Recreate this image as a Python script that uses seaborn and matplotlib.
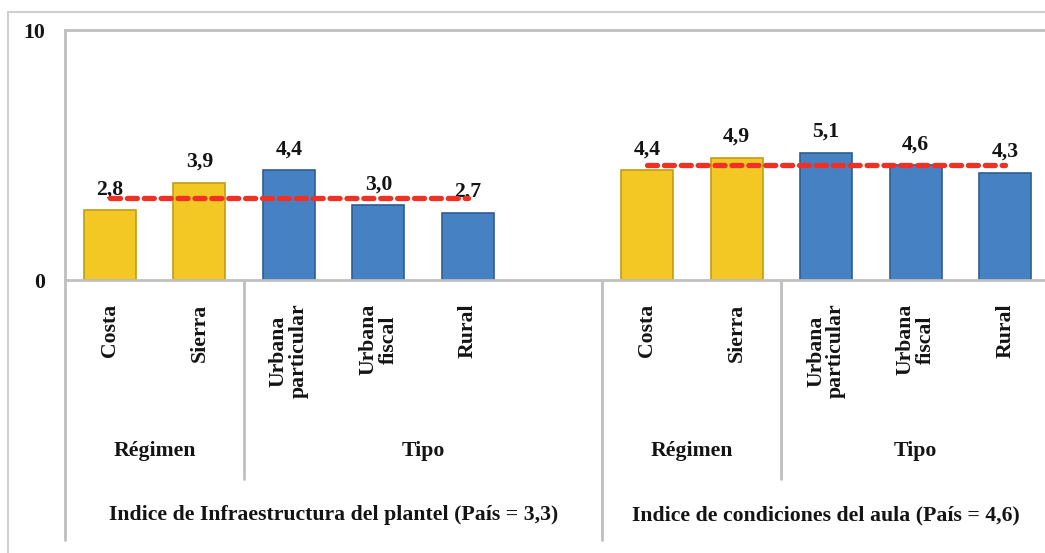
import numpy as np
import pandas as pd
import seaborn as sns
import matplotlib.pyplot as plt
from matplotlib.transforms import blended_transform_factory
from matplotlib.lines import Line2D

# data
slots = ['c1', 's1', 'up1', 'uf1', 'r1', 'gap', 'c2', 's2', 'up2', 'uf2', 'r2']
tick_labels = ['Costa', 'Sierra', 'Urbana\nparticular', 'Urbana\nfiscal', 'Rural', '',
               'Costa', 'Sierra', 'Urbana\nparticular', 'Urbana\nfiscal', 'Rural']
bar_slots = ['c1', 's1', 'up1', 'uf1', 'r1', 'c2', 's2', 'up2', 'uf2', 'r2']
values = [2.8, 3.9, 4.4, 3.0, 2.7, 4.4, 4.9, 5.1, 4.6, 4.3]
grupo = ['Régimen', 'Régimen', 'Tipo', 'Tipo', 'Tipo',
         'Régimen', 'Régimen', 'Tipo', 'Tipo', 'Tipo']
value_text = ['2,8', '3,9', '4,4', '3,0', '2,7', '4,4', '4,9', '5,1', '4,6', '4,3']
pais = [3.3, 4.6]
indices = ['Indice de Infraestructura del plantel (País = 3,3)',
           'Indice de condiciones del aula (País = 4,6)']

df = pd.DataFrame({'slot': bar_slots, 'valor': values, 'grupo': grupo})

sns.set_style('white')
plt.rcParams['font.family'] = ['Liberation Serif', 'DejaVu Serif']
plt.rcParams['font.weight'] = 'bold'
FS = 15.7
TXT = '#141414'

fig = plt.figure(figsize=(10.45, 5.53), dpi=100)
W, H = 1045, 553
# axes: x 65..1045 px, y 30..280 px
ax = fig.add_axes([65 / W, 1 - 280 / H, (1045 - 65) / W, 250 / H])

pal = {'Régimen': '#F3C824', 'Tipo': '#4682C3'}
sns.barplot(data=df, x='slot', y='valor', hue='grupo', order=slots, palette=pal,
            dodge=False, width=0.58, legend=False, ax=ax, saturation=1)
for p in ax.patches:
    fc = p.get_facecolor()
    if fc[2] > 0.5:
        p.set_edgecolor('#2E5E93')
    else:
        p.set_edgecolor('#C29C14')
    p.set_linewidth(1.2)

pos = {s: i for i, s in enumerate(slots)}
for s, v, t in zip(bar_slots, values, value_text):
    ax.text(pos[s], v + 0.42, t, ha='center', va='bottom', fontsize=FS,
            fontweight='bold', color=TXT)

# country average lines
for (a, b), y in zip([('c1', 'r1'), ('c2', 'r2')], pais):
    ax.plot([pos[a], pos[b]], [y, y], color='#EE3124', lw=3.8,
            dashes=(1.9, 1.3), dash_capstyle='round', zorder=5)

ax.set_ylim(0, 10)
ax.set_xlim(-0.5, 10.5 - 5 / 89.5)
ax.set_yticks([0, 10])
ax.set_yticklabels(['0', '10'], fontsize=FS, fontweight='bold', color=TXT)
ax.set_xticks(range(len(slots)))
ax.set_xticklabels(tick_labels, rotation=90, fontsize=FS, fontweight='bold',
                   linespacing=1.0, va='top', ha='center', color=TXT)
ax.tick_params(axis='both', length=0)
ax.tick_params(axis='x', pad=17)
ax.tick_params(axis='y', pad=14)
ax.set_xlabel('')
ax.set_ylabel('')

gray = '#BFBFBF'
for side in ['top', 'bottom']:
    ax.spines[side].set_color(gray)
    ax.spines[side].set_linewidth(2)
ax.spines['right'].set_visible(False)
ax.spines['left'].set_visible(False)

# category separators below the axis
tr = blended_transform_factory(ax.transData, ax.transAxes)
for xb, ytop, ybot in [(-0.5, 1.0, -1.04), (1.5, 0, -0.796),
                       (5.5, 0, -1.04), (7.5, 0, -0.796)]:
    ax.add_line(Line2D([xb, xb], [ytop, ybot], transform=tr,
                       color=gray, lw=2, clip_on=False))

for xc, lab in [(0.5, 'Régimen'), (3.5, 'Tipo'), (6.5, 'Régimen'), (9.0, 'Tipo')]:
    ax.text(xc, -0.684, lab, transform=tr, ha='center', va='center', fontsize=FS,
            fontweight='bold', color=TXT)
for xc, lab in zip([2.5, 8.0], indices):
    ax.text(xc, -0.94, lab, transform=tr, ha='center', va='center', fontsize=FS,
            fontweight='bold', color=TXT)

# outer frame
fig.add_artist(Line2D([8 / W, 8 / W], [0, 1 - 12 / H], color='#D0D0D0', lw=1.5))
fig.add_artist(Line2D([8 / W, 1], [1 - 12 / H, 1 - 12 / H], color='#D0D0D0', lw=1.5))

fig.savefig('out.png', dpi=100)
